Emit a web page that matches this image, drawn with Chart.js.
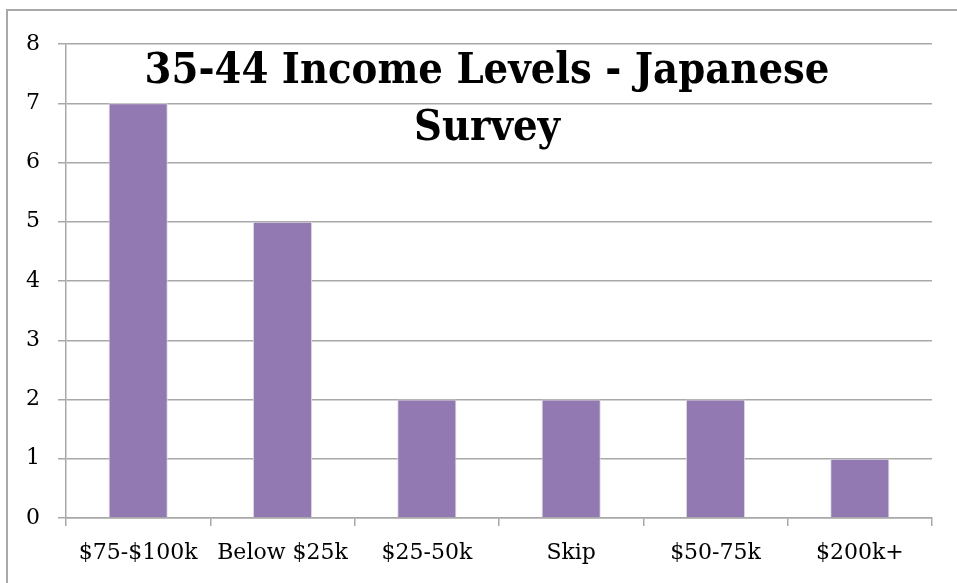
<!DOCTYPE html>
<html lang="en">
<head>
  <meta charset="UTF-8" />
  <title>35-44 Income Levels - Japanese Survey</title>
  <script src="https://cdn.jsdelivr.net/npm/chart.js"></script>
  <style>
    html,body{margin:0;padding:0;background:#fff;overflow:hidden}
    .frame{position:absolute;left:6px;top:9px;width:970px;height:600px;border:2px solid #a9a9a9}
    .wrap{position:absolute;left:0;top:0;width:957px;height:583px}
  </style>
</head>
<body>
  <div class="frame"></div>
  <div class="wrap"><canvas id="incomeChart" width="957" height="583"></canvas></div>

<script>
const categories = ['$75-$100k', 'Below $25k', '$25-50k', 'Skip', '$50-75k', '$200k+'];
const counts = [7, 5, 2, 2, 2, 1];
const yTicks = [0, 1, 2, 3, 4, 5, 6, 7, 8];
const titleLines = ['35-44 Income Levels - Japanese', 'Survey'];

const GRID = '#a8a8a8';
const SERIF = "'DejaVu Serif', 'Liberation Serif', serif";
const TITLE_FONT = "'DejaVu Serif Condensed', 'DejaVu Serif', serif";

// title sits inside the plot area, so draw it by hand
const titlePlugin = {
  id: 'overlayTitle',
  afterDraw(chart) {
    const ctx = chart.ctx;
    ctx.save();
    ctx.fillStyle = '#000';
    ctx.font = "bold 43px " + TITLE_FONT;
    ctx.textAlign = 'center';
    ctx.textBaseline = 'alphabetic';
    ctx.fillText(titleLines[0], 487, 83);
    ctx.fillText(titleLines[1], 487, 140);
    ctx.restore();
  }
};

new Chart(document.getElementById('incomeChart').getContext('2d'), {
  type: 'bar',
  data: {
    labels: categories,
    datasets: [{
      data: counts,
      backgroundColor: '#9279b1',
      borderColor: '#dcdcdc',
      borderWidth: 1,
      barPercentage: 0.41,
      categoryPercentage: 1
    }]
  },
  options: {
    responsive: false,
    animation: false,
    layout: { padding: { top: 44, right: 25, left: 0, bottom: 0 } },
    plugins: { legend: { display: false }, tooltip: { enabled: false } },
    scales: {
      x: {
        offset: true,
        grid: { offset: true, drawOnChartArea: false, drawTicks: true, tickLength: 8, color: GRID, lineWidth: 1.5 },
        border: { color: GRID, width: 1.5 },
        ticks: { color: '#000', font: { family: SERIF, size: 22 }, padding: 14, maxRotation: 0 },
        afterFit(scale) { scale.height = 65; }
      },
      y: {
        min: 0,
        max: 8,
        afterBuildTicks(scale) { scale.ticks = yTicks.map(v => ({ value: v })); },
        grid: { color: GRID, lineWidth: 1.5, tickLength: 8 },
        border: { color: GRID, width: 1.5 },
        ticks: { color: '#000', font: { family: SERIF, size: 22 }, padding: 18 },
        afterFit(scale) { scale.width = 66; }
      }
    }
  },
  plugins: [titlePlugin]
});
</script>
</body>
</html>
